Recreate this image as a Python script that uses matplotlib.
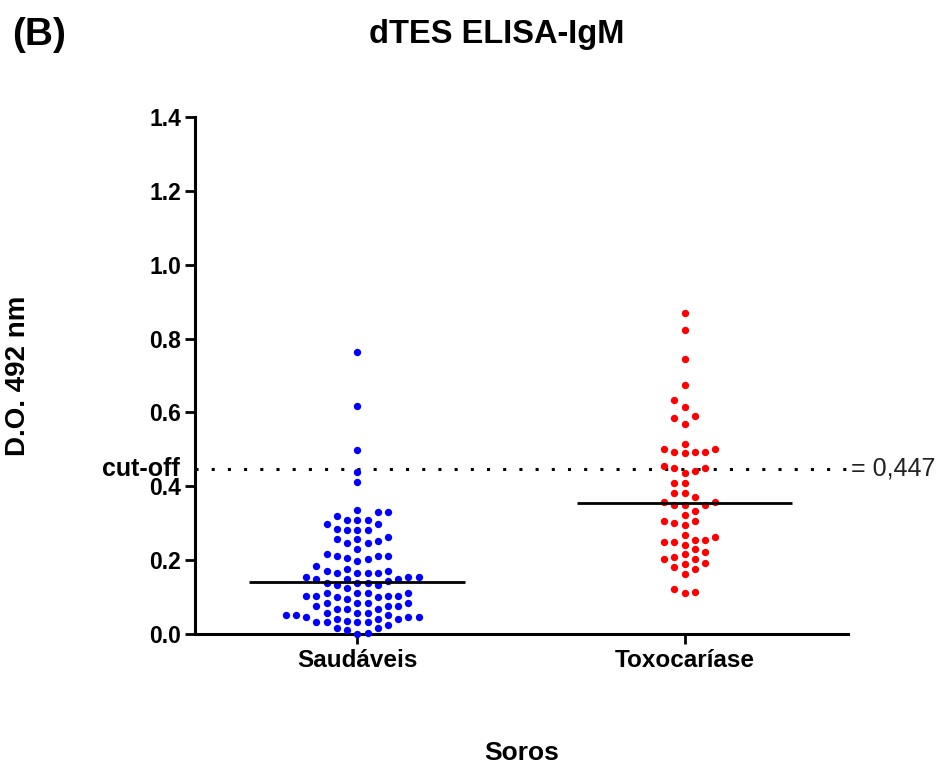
import numpy as np
import matplotlib
matplotlib.use("Agg")
import matplotlib.pyplot as plt
from matplotlib import transforms

plt.rcParams['font.family'] = ['Liberation Sans', 'DejaVu Sans']

# data
groups = ['Saudáveis', 'Toxocaríase']
colors = ['#0000FF', '#FF0000']

saudaveis = [0.763, 0.618, 0.499, 0.438, 0.411,
             0.336, 0.329, 0.329, 0.320, 0.309, 0.309, 0.309, 0.298, 0.298,
             0.285, 0.282, 0.282, 0.282, 0.262, 0.256, 0.256, 0.253, 0.246,
             0.246, 0.229, 0.217, 0.211, 0.211, 0.211, 0.206, 0.202, 0.198,
             0.184, 0.175, 0.171, 0.171, 0.166, 0.166, 0.166, 0.166, 0.155,
             0.155, 0.155, 0.150, 0.150, 0.150, 0.144, 0.137, 0.137, 0.137,
             0.132, 0.132, 0.125, 0.110, 0.110, 0.110, 0.110, 0.103, 0.103,
             0.103, 0.103, 0.099, 0.099, 0.094, 0.085, 0.085, 0.085, 0.085,
             0.076, 0.076, 0.076, 0.069, 0.069, 0.069, 0.058, 0.058, 0.058,
             0.051, 0.051, 0.051, 0.047, 0.047, 0.047, 0.041, 0.041, 0.041,
             0.036, 0.032, 0.032, 0.032, 0.032, 0.024, 0.016, 0.016, 0.011,
             0.004, 0.000]

toxocariase = [0.870, 0.822, 0.744, 0.675, 0.634, 0.615, 0.591, 0.584, 0.569,
               0.514, 0.500, 0.500, 0.494, 0.494, 0.494, 0.489, 0.455, 0.449,
               0.449, 0.442, 0.437, 0.408, 0.408, 0.381, 0.381, 0.370, 0.357,
               0.357, 0.349, 0.349, 0.349, 0.334, 0.322, 0.307, 0.307, 0.300,
               0.295, 0.268, 0.264, 0.255, 0.255, 0.250, 0.250, 0.242, 0.229,
               0.221, 0.217, 0.209, 0.204, 0.204, 0.193, 0.190, 0.182, 0.175,
               0.162, 0.121, 0.115, 0.110]

means = [0.141, 0.355]
cutoff = 0.447
yticks = [0.0, 0.2, 0.4, 0.6, 0.8, 1.0, 1.2, 1.4]


def swarm(values, col_w, min_dy):
    # grid beeswarm: put each point in the column nearest the centre that is free
    values = np.asarray(values)
    offs = np.zeros(len(values))
    placed = {}
    flip = 1
    for i in np.argsort(values):
        y = values[i]
        step = 0
        while True:
            cands = [0] if step == 0 else [flip * step, -flip * step]
            free = [c for c in cands
                    if all(abs(y - yy) >= min_dy for yy in placed.get(c, []))]
            if free:
                c = free[0]
                if c != 0:
                    flip = -flip
                break
            step += 1
        placed.setdefault(c, []).append(y)
        offs[i] = c * col_w
    return offs


fig = plt.figure(figsize=(9.39, 7.67), dpi=100)
ax = fig.add_axes([0.2077, 0.1734, 0.6955, 0.6741])

for i, (vals, col) in enumerate(zip([saudaveis, toxocariase], colors)):
    x = i + swarm(vals, 0.0312, 0.0245)
    ax.scatter(x, vals, s=28, color=col, linewidths=0, zorder=3, clip_on=False)
    ax.plot([i - 0.33, i + 0.33], [means[i], means[i]], color='black',
            lw=2, zorder=4, solid_capstyle='butt')

ax.axhline(cutoff, color='black', lw=2.2, dashes=(1, 4.3), zorder=2)

ax.set_xlim(-0.496, 1.5)
ax.set_ylim(0, 1.4)
ax.set_yticks(yticks)
ax.set_yticklabels(['%.1f' % v for v in yticks])
ax.set_xticks([0, 1])
ax.set_xticklabels(groups)

for s in ['top', 'right']:
    ax.spines[s].set_visible(False)
for s in ['left', 'bottom']:
    ax.spines[s].set_linewidth(2.2)

ax.tick_params(axis='y', length=7, width=2, pad=3, labelsize=16.5)
ax.tick_params(axis='x', length=7, width=2, pad=4, labelsize=17.5)
for lab in ax.get_xticklabels() + ax.get_yticklabels():
    lab.set_fontweight('bold')

ax.set_ylabel('D.O. 492 nm', fontsize=20, fontweight='bold', va='center')
ax.yaxis.set_label_coords(-177 / 653, 0.5)
ax.set_xlabel('Soros', fontsize=19, fontweight='bold', va='center')
ax.xaxis.set_label_coords(0.5, -119 / 517)

tr = transforms.blended_transform_factory(ax.transAxes, ax.transData)
ax.annotate('cut-off', xy=(0, cutoff), xycoords=tr, xytext=(-11, 0),
            textcoords='offset points', ha='right', va='center',
            fontsize=18, fontweight='bold', annotation_clip=False)
ax.annotate('= 0,447', xy=(1, cutoff), xycoords=tr, xytext=(2, 0),
            textcoords='offset points', ha='left', va='center',
            fontsize=18, color='#222222', annotation_clip=False)

fig.text(497 / 939, 1 - 35 / 767, 'dTES ELISA-IgM', ha='center', va='center',
         fontsize=23.5, fontweight='bold')
fig.text(12 / 939, 1 - 35 / 767, '(B)', ha='left', va='center',
         fontsize=28, fontweight='bold')

fig.savefig('out.png', dpi=100)
